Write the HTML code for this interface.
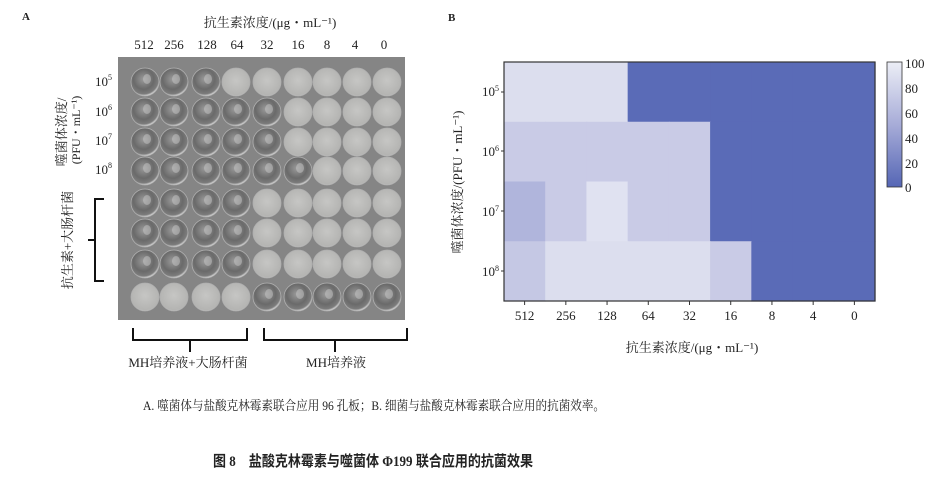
<!DOCTYPE html>
<html><head><meta charset="utf-8">
<style>
html,body{margin:0;padding:0;background:#fff;}
svg{display:block;}
text{font-family:"Liberation Serif","Noto Serif CJK SC","Noto Sans CJK SC",serif;fill:#222;}
</style></head><body>
<svg width="942" height="489" viewBox="0 0 942 489" xmlns="http://www.w3.org/2000/svg">
<defs>
<radialGradient id="clr" cx="45%" cy="40%" r="60%">
<stop offset="0" stop-color="#9a9a9a"/><stop offset="0.6" stop-color="#6a6a6a"/><stop offset="0.88" stop-color="#7c7c7c"/><stop offset="1" stop-color="#dedede"/>
</radialGradient>
<radialGradient id="trb" cx="50%" cy="45%" r="60%">
<stop offset="0" stop-color="#c6c6c4"/><stop offset="0.85" stop-color="#b4b4b2"/><stop offset="1" stop-color="#dadada"/>
</radialGradient>
</defs>
<text x="22" y="20" font-size="11" font-weight="bold">A</text>
<text x="448" y="21" font-size="11" font-weight="bold">B</text>

<text x="270" y="27" font-size="13" text-anchor="middle">抗生素浓度/(μg・mL⁻¹)</text>
<g font-size="13" text-anchor="middle">
<text x="144" y="49">512</text><text x="174" y="49">256</text><text x="207" y="49">128</text><text x="237" y="49">64</text><text x="267" y="49">32</text><text x="298" y="49">16</text><text x="327" y="49">8</text><text x="355" y="49">4</text><text x="384" y="49">0</text>
</g>
<g font-size="13" text-anchor="end">
<text x="112" y="86">10<tspan dy="-6" font-size="8">5</tspan></text>
<text x="112" y="116">10<tspan dy="-6" font-size="8">6</tspan></text>
<text x="112" y="145">10<tspan dy="-6" font-size="8">7</tspan></text>
<text x="112" y="174">10<tspan dy="-6" font-size="8">8</tspan></text>
</g>
<text transform="translate(66,132) rotate(-90)" font-size="13" text-anchor="middle">噬菌体浓度/</text>
<text transform="translate(80,130) rotate(-90)" font-size="12" text-anchor="middle">(PFU・mL⁻¹)</text>
<text transform="translate(72,240) rotate(-90)" font-size="13" text-anchor="middle">抗生素+大肠杆菌</text>
<path d="M104,199 H95 V281 H104 M95,240 H88" fill="none" stroke="#111" stroke-width="2"/>

<rect x="118" y="57" width="287" height="263" fill="#858585"/>
<g id="wells"></g>

<path d="M133,328 V340 H247 V328 M190,340 V352 M264,328 V340 H407 V328 M335,340 V352" fill="none" stroke="#111" stroke-width="2"/>
<text x="188" y="367" font-size="13" text-anchor="middle">MH培养液+大肠杆菌</text>
<text x="336" y="367" font-size="13" text-anchor="middle">MH培养液</text>

<g id="heat"></g>
<rect x="504" y="62" width="371" height="239" fill="none" stroke="#333" stroke-width="1.2"/>
<g font-size="13" text-anchor="end">
<text x="499" y="96">10<tspan dy="-5" font-size="8">5</tspan></text>
<text x="499" y="156">10<tspan dy="-5" font-size="8">6</tspan></text>
<text x="499" y="216">10<tspan dy="-5" font-size="8">7</tspan></text>
<text x="499" y="276">10<tspan dy="-5" font-size="8">8</tspan></text>
</g>
<g stroke="#333">
<line x1="501" x2="504" y1="92" y2="92"/><line x1="501" x2="504" y1="151" y2="151"/><line x1="501" x2="504" y1="211" y2="211"/><line x1="501" x2="504" y1="271" y2="271"/>
</g>
<g font-size="13" text-anchor="middle" id="xt"></g>
<text transform="translate(462,182) rotate(-90)" font-size="13" text-anchor="middle">噬菌体浓度/(PFU・mL⁻¹)</text>
<text x="692" y="352" font-size="13" text-anchor="middle">抗生素浓度/(μg・mL⁻¹)</text>

<defs><linearGradient id="cb" x1="0" y1="0" x2="0" y2="1"><stop offset="0" stop-color="#eceef6"/><stop offset="0.5" stop-color="#a7acd8"/><stop offset="1" stop-color="#5566b5"/></linearGradient></defs>
<rect x="887" y="62" width="15" height="125" fill="url(#cb)" stroke="#333" stroke-width="0.8"/>
<g font-size="13">
<text x="905" y="68">100</text><text x="905" y="93">80</text><text x="905" y="118">60</text><text x="905" y="143">40</text><text x="905" y="168">20</text><text x="905" y="192">0</text>
</g>

<text x="143" y="410" font-size="13" textLength="462" lengthAdjust="spacingAndGlyphs">A. 噬菌体与盐酸克林霉素联合应用 96 孔板；B. 细菌与盐酸克林霉素联合应用的抗菌效率。</text>
<text x="213" y="466" font-size="15" font-weight="bold" textLength="320" lengthAdjust="spacingAndGlyphs" style="font-family:'Liberation Serif','Noto Sans CJK SC',sans-serif">图 8　盐酸克林霉素与噬菌体 Φ199 联合应用的抗菌效果</text>

<script>
var ns="http://www.w3.org/2000/svg";
var cx=[145,174,206,236,267,298,327,357,387],cy=[82,112,142,171,203,233,264,297];
var T=["CCCTTTTTT","CCCCCTTTT","CCCCCTTTT","CCCCCCTTT","CCCCTTTTT","CCCCTTTTT","CCCCTTTTT","TTTTCCCCC"];
var g=document.getElementById("wells");
for(var r=0;r<8;r++)for(var c=0;c<9;c++){var e=document.createElementNS(ns,"circle");e.setAttribute("cx",cx[c]);e.setAttribute("cy",cy[r]);e.setAttribute("r",14);e.setAttribute("fill",T[r][c]=="C"?"url(#clr)":"url(#trb)");e.setAttribute("stroke","#b0b0b0");e.setAttribute("stroke-width","0.8");g.appendChild(e);
if(T[r][c]=="C"){var hl=document.createElementNS(ns,"ellipse");hl.setAttribute("cx",cx[c]+2);hl.setAttribute("cy",cy[r]-3);hl.setAttribute("rx",4);hl.setAttribute("ry",5);hl.setAttribute("fill","#c8c8c8");hl.setAttribute("opacity","0.5");g.appendChild(hl);}}
var col={L:"#dcdeee",M:"#c9cbe6",V:"#e0e2f1",A:"#b0b5dc",N:"#c5c8e4",D:"#5a6bb7"};
var H=["LLLDDDDDD","MMMMMDDDD","AMVMMDDDD","NLLLLMDDD"];
var h=document.getElementById("heat"),w=371/9,hh=239/4;
for(var r=0;r<4;r++)for(var c=0;c<9;c++){var e=document.createElementNS(ns,"rect");e.setAttribute("x",504+c*w);e.setAttribute("y",62+r*hh);e.setAttribute("width",w+0.6);e.setAttribute("height",hh+0.6);e.setAttribute("fill",col[H[r][c]]);h.appendChild(e);}
var lab=["512","256","128","64","32","16","8","4","0"],xt=document.getElementById("xt");
for(var c=0;c<9;c++){var x=504+c*w+w/2;var t=document.createElementNS(ns,"text");t.setAttribute("x",x);t.setAttribute("y",320);t.textContent=lab[c];xt.appendChild(t);var l=document.createElementNS(ns,"line");l.setAttribute("x1",x);l.setAttribute("x2",x);l.setAttribute("y1",301);l.setAttribute("y2",305);l.setAttribute("stroke","#333");xt.appendChild(l);}
</script>
</svg>
</body></html>
